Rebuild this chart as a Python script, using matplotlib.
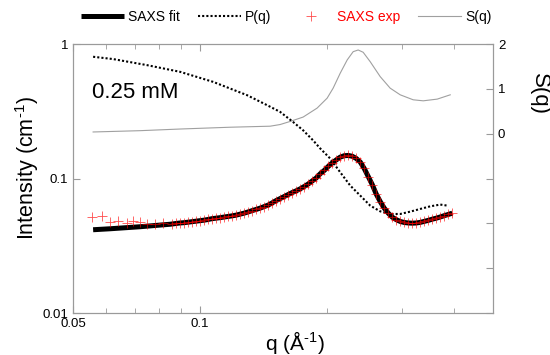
import matplotlib
matplotlib.use("Agg")
import matplotlib.pyplot as plt

plt.rcParams['font.family'] = ['Liberation Sans', 'DejaVu Sans']
plt.rcParams['mathtext.fontset'] = 'custom'
plt.rcParams['mathtext.rm'] = 'Liberation Sans'
plt.rcParams['mathtext.it'] = 'Liberation Sans:italic'

# SAXS experimental points (q in 1/A, intensity in 1/cm)
q_exp = [0.0555, 0.0586, 0.0612, 0.0639, 0.0671, 0.0694, 0.0721, 0.0748, 0.0782, 0.0817,
         0.0858, 0.08770, 0.08964, 0.09162, 0.09364, 0.09571, 0.09782, 0.09998, 0.10219,
         0.10444, 0.10675, 0.10910, 0.11151, 0.11397, 0.11649, 0.11906, 0.12169, 0.12437,
         0.12712, 0.12992, 0.13279, 0.13572, 0.13872, 0.14178, 0.14491, 0.14811, 0.15138,
         0.15472, 0.15814, 0.16163, 0.16520, 0.16884, 0.17257, 0.17638, 0.18027, 0.18425,
         0.18832, 0.19248, 0.19673, 0.20107, 0.20551, 0.21004, 0.21468, 0.21942, 0.22426,
         0.22921, 0.23427, 0.23944, 0.24473, 0.25013, 0.25565, 0.26130, 0.26706, 0.27296,
         0.27899, 0.28515, 0.29144, 0.29788, 0.30445, 0.31117, 0.31804, 0.32506, 0.33224,
         0.33957, 0.34707, 0.35473, 0.36256, 0.37056, 0.37874, 0.38710, 0.39565]
i_exp = [0.0521, 0.0530, 0.0478, 0.0486, 0.0470, 0.0486, 0.0478, 0.0461, 0.0461, 0.0470,
         0.0461, 0.04631, 0.04671, 0.04695, 0.04735, 0.04776, 0.04817, 0.04859, 0.04901,
         0.04960, 0.05029, 0.05072, 0.05116, 0.05169, 0.05223, 0.05277, 0.05341, 0.05433,
         0.05527, 0.05642, 0.05770, 0.05890, 0.06023, 0.06180, 0.06341, 0.06586, 0.06851,
         0.07091, 0.07339, 0.07596, 0.07861, 0.08094, 0.08377, 0.08715, 0.09097, 0.09580,
         0.10086, 0.10840, 0.11475, 0.12289, 0.13049, 0.13738, 0.14417, 0.14768, 0.14844,
         0.14641, 0.14101, 0.13275, 0.11874, 0.10350, 0.09019, 0.07661, 0.06735, 0.06023,
         0.05527, 0.05160, 0.04943, 0.04793, 0.04711, 0.04671, 0.04655, 0.04671, 0.04719,
         0.04801, 0.04884, 0.04986, 0.05072, 0.05178, 0.05295, 0.05405, 0.05527]

# SAXS fit: below the data at low q, on top of the data from q ~ 0.088 on
q_fit_low = [0.0558, 0.0612, 0.0721, 0.0849]
i_fit_low = [0.0416, 0.0423, 0.0438, 0.0457]
q_fit = q_fit_low + q_exp[11:]
i_fit = i_fit_low + i_exp[11:]

# form factor P(q)
q_p = [0.0558, 0.0622, 0.0748, 0.0897, 0.1074, 0.1293, 0.1441, 0.1547, 0.1661, 0.17543,
       0.1852, 0.19245, 0.20322, 0.21465, 0.22669, 0.23944, 0.2528, 0.26706, 0.2819,
       0.29788, 0.31446, 0.33224, 0.35071, 0.37056, 0.38480]
i_p = [0.804, 0.773, 0.697, 0.621, 0.523, 0.416, 0.351, 0.313, 0.263, 0.2281,
       0.1921, 0.1675, 0.1410, 0.1114, 0.0887, 0.0747, 0.0629, 0.0570, 0.0545,
       0.0545, 0.0567, 0.0594, 0.0621, 0.0640, 0.0629]

# structure factor S(q), right axis
q_s = [0.0558, 0.0721, 0.0897, 0.1178, 0.1465, 0.1547, 0.16338, 0.17543, 0.1893, 0.19995,
       0.2066, 0.2147, 0.2230, 0.23041, 0.2368, 0.24332, 0.2528, 0.2670, 0.2819, 0.2978,
       0.3196, 0.3376, 0.3644, 0.3912]
s_q = [0.038, 0.067, 0.104, 0.144, 0.167, 0.204, 0.273, 0.371, 0.571, 0.793,
       1.016, 1.349, 1.644, 1.829, 1.867, 1.816, 1.607, 1.273, 1.016, 0.867,
       0.756, 0.733, 0.771, 0.867]

grey = '#9a9a9a'

fig = plt.figure(figsize=(5.5, 3.55), dpi=100)
ax = fig.add_axes([0.1327, 0.1183, 0.7637, 0.7577])
ax2 = ax.twinx()

# S(q) on the twin axis, kept behind the main curves
l_s, = ax2.plot(q_s, s_q, color='#a0a0a0', lw=0.8, label='S(q)')
ax.set_zorder(ax2.get_zorder() + 1)
ax.patch.set_visible(False)

l_fit, = ax.plot(q_fit, i_fit, color='black', lw=3.6, solid_capstyle='butt', label='SAXS fit')
l_p, = ax.plot(q_p, i_p, color='black', lw=1.5, linestyle=(0, (1, 1)), dash_capstyle='butt', label='P(q)')
l_exp, = ax.plot(q_exp, i_exp, linestyle='none', marker='+', ms=7, mew=0.6, color='red', alpha=0.7, label='SAXS exp')

ax.set_xscale('log')
ax.set_yscale('log')
ax.set_xlim(0.05, 0.494)
ax.set_ylim(0.01, 1)
ax.set_xticks([0.05, 0.1])
ax.set_xticklabels(['0.05', '0.1'])
ax.set_xticks([0.06, 0.07, 0.08, 0.09, 0.2, 0.3, 0.4], minor=True)
ax.set_xticklabels([], minor=True)
ax.set_yticks([0.01, 0.1, 1])
ax.set_yticklabels(['0.01', '0.1', '1'])
ax.yaxis.set_minor_locator(matplotlib.ticker.NullLocator())

ax2.set_ylim(-4, 2)
ax2.set_yticks([-4, -3, -2, -1, 0, 1, 2])
ax2.set_yticklabels(['', '', '', '', '0', '1', '2'])

ax.tick_params(which='both', direction='in', colors=grey, labelcolor='black', labelsize=9.5, top=True)
ax.tick_params(which='major', length=5)
ax.tick_params(which='minor', length=3.5)
ax2.tick_params(direction='in', colors=grey, labelcolor='black', labelsize=9.5, length=5)
for a in (ax, ax2):
    for s in a.spines.values():
        s.set_color(grey)

ax.set_xlabel('q (Å$^{\\text{-1}}$)', fontsize=15)
ax.xaxis.set_label_coords(0.528, -0.058)
ax.set_ylabel('Intensity (cm$^{\\text{-1}}$)', fontsize=15.5)
ax.yaxis.set_label_coords(-0.075, 0.54)
ax2.set_ylabel('S(q)', fontsize=16, rotation=270, va='bottom')
ax2.yaxis.set_label_coords(1.085, 0.814)

ax.text(0.045, 0.798, '0.25 mM', transform=ax.transAxes, fontsize=16, va='baseline')

leg = fig.legend([l_fit, l_p, l_exp, l_s], ['SAXS fit', 'P(q)', 'SAXS exp', 'S(q)'],
                 loc='center', bbox_to_anchor=(0.52, 0.953), ncol=4, frameon=False,
                 fontsize=10, handlelength=3.1, handletextpad=0.3, columnspacing=1.3, numpoints=1)
leg.get_texts()[2].set_color('red')

fig.savefig('out.png', dpi=100)
